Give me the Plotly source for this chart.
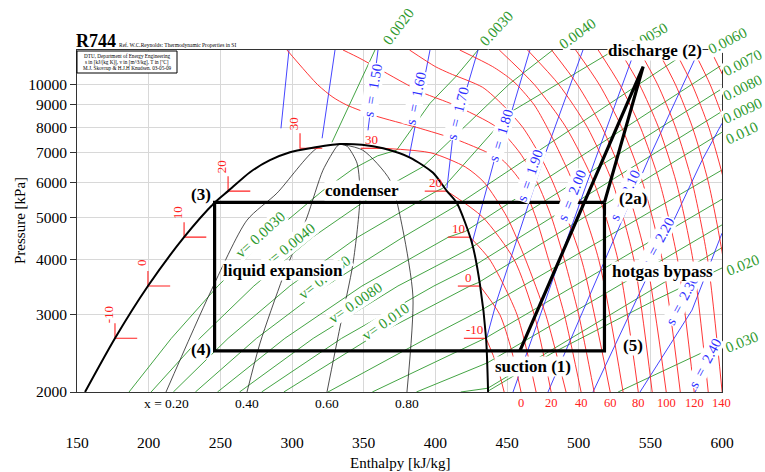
import math
import plotly.graph_objects as go

SERIF = "Liberation Serif, Times New Roman, serif"
RED = "#ff2020"
BLUE = "#3030ff"
GREEN = "#2f9a2f"

# ---------------- data (h in kJ/kg, p in kPa) ----------------
# saturation dome
dome_h = [155.6, 176.5, 199.5, 224.7, 245.6, 255.4, 270.7, 284.6, 298.6, 312.6, 333.5,
          348.8, 363.5, 382.3, 398.4, 408.1, 415.1, 425.6, 431.2, 435.4, 436.8]
dome_p = [2000, 2650, 3484, 4501, 5377, 5729, 6325, 6736, 7024, 7171, 7330,
          7305, 7171, 6830, 6305, 5729, 5377, 4362, 3502, 2650, 2000]

# constant quality lines
quality_labels = ["x = 0.20", "0.40", "0.60", "0.80"]
quality_h = [
    [212.1, 242.8, 268.6, 289.5, 317.4, 333.5],
    [268.6, 277.7, 293.7, 310.5, 321.6, 331.4, 333.5],
    [324.4, 333.5, 342.6, 347.4, 345.4, 338.4, 333.5],
    [380.2, 384.4, 377.4, 368.4, 349.5, 333.5],
]
quality_p = [
    [2000, 3358, 4920, 5668, 7171, 7330],
    [2000, 2584, 3650, 4999, 6392, 7250, 7330],
    [2000, 2811, 3929, 5550, 6630, 7250, 7330],
    [2000, 3288, 4669, 6066, 7096, 7330],
]

# isotherms below the critical temperature (vapour side)
iso_low_T = [-10, 0, 10, 20, 30]
iso_low_h = [
    [435.4, 443.0, 448.0],
    [431.2, 445.0, 453.0, 459.8],
    [424.2, 438.0, 457.0, 470.3],
    [408.1, 433.0, 455.0, 469.0, 480.8],
    [363.5, 397.0, 421.0, 434.0, 450.0, 463.0, 477.0, 491.2],
]
iso_low_p = [
    [2650, 2300, 2000],
    [3484, 3000, 2500, 2000],
    [4501, 4000, 3000, 2000],
    [5729, 5000, 4000, 3000, 2000],
    [7171, 7000, 6500, 6000, 5000, 4000, 3000, 2000],
]
# saturated liquid / vapour points used for the temperature marks
sat_liq_h = [176.5, 199.5, 224.7, 255.4, 305.6]
sat_liq_p = [2650, 3484, 4501, 5729, 7171]
sat_vap_h = [435.4, 431.2, 424.2, 408.1, 363.5]
sat_vap_p = [2650, 3484, 4501, 5729, 7171]

# supercritical isotherms
iso_high_T = [40, 50, 60, 70, 80, 90, 100, 110, 120, 130, 140, 150, 160, 170, 180]
grid_p = [12000, 10000, 8000, 6000, 4000, 2000]
iso_high_p = [
    [12000, 10000, 9368, 9000, 8500, 8000, 7500, 7000, 6736, 6000, 5000, 4000, 3000, 2000],
    [12000, 11486, 10128, 9590, 9000, 8000, 7000, 6000, 5000, 4000, 3000, 2000],
    [12000, 11000, 10618, 9868, 9000, 8000, 7000, 6000, 4000, 2000],
    [12000, 11000, 10398, 10000, 9000, 8000, 6000, 4000, 2000],
] + [grid_p] * 11
iso_high_h = [
    [296.5, 318, 328.6, 338, 358, 387, 415, 437, 447, 460, 470, 479, 490, 501.7],
    [335.6, 347.4, 377.4, 391.3, 413, 443, 459, 471, 481, 490, 500, 510.8],
    [382, 400, 410, 433, 447, 461, 472, 482, 502, 522],
    [417, 440, 451, 457, 469, 478, 496, 514, 531],
    [444.6, 469.2, 491.2, 510.6, 527.4, 541.6],
    [464.3, 486.3, 506.1, 523.5, 538.5, 551.3],
    [481.1, 499.2, 516.3, 532.3, 547.2, 561.1],
    [497.9, 514.5, 530.0, 544.6, 558.3, 570.9],
    [513.6, 528.8, 543.1, 556.5, 569.0, 580.6],
    [528.4, 542.5, 555.7, 568.1, 579.7, 590.4],
    [542.1, 555.2, 567.6, 579.2, 590.0, 600.1],
    [555.0, 567.6, 579.4, 590.5, 600.9, 610.5],
    [567.0, 579.2, 590.8, 601.6, 611.6, 621.0],
    [580.0, 591.8, 602.9, 613.3, 623.0, 632.0],
    [592.0, 603.6, 614.4, 624.6, 634.2, 643.0],
]
bottom_T_labels = [0, 20, 40, 60, 80, 100, 120, 140]
bottom_T_h = [459.8, 480.8, 501.7, 522.0, 541.6, 561.1, 580.6, 599.9]

# isentropes [kJ/(kg K)]
s_values = [1.30, 1.40, 1.50, 1.60, 1.70, 1.80, 1.90, 2.00, 2.10, 2.20, 2.30, 2.40]
s_h = [
    [297.9, 292.3],
    [330.0, 321.0],
    [360.0, 353.0],
    [396.3, 381.6],
    [429.8, 412.3, 408.1],
    [466.0, 453.5, 443.0, 425.6],
    [503.0, 475.1, 443.0, 435.4],
    [539.3, 511.4, 454.2],
    [584.0, 548.4, 478.6],
    [600.0, 586.1, 510.0],
    [600.0, 579.1, 542.8],
    [600.0, 581.2],
]
s_p = [
    [12000, 7962],
    [12000, 7558],
    [12000, 7878],
    [12000, 6830],
    [12000, 7676, 5816],
    [12000, 8748, 7096, 4362],
    [12000, 6736, 3237, 2625],
    [12000, 6736, 2000],
    [12000, 6736, 2000],
    [8174, 6736, 2000],
    [4596, 3072, 2000],
    [2584, 2000],
]
s_label_h = [356.5, 386.5, 415.8, 445.8, 466.1, 495.4, 532.3, 555.4, 572.1, 588.2]
s_label_p = [9714, 9318, 8612, 7676, 6224, 5607, 5607, 4386, 3237, 2328]
s_label_angle = [-80, -78, -76, -73, -71, -68, -65, -62, -62, -62]

# isochores [m3/kg]
v_values = [0.002, 0.003, 0.004, 0.005, 0.006, 0.007, 0.008, 0.009, 0.010,
            0.012, 0.014, 0.016, 0.018, 0.020, 0.030]
v_h = [
    [327.9, 347.4, 357.9],
    [186.3, 215.8, 248.3, 282.8, 321.0, 342.5, 359.7, 373.0, 396.3, 413.8, 429.8],
    [201.7, 235.6, 273.4, 314.4, 360.9, 388.0, 391.0, 452.1, 482.0],
    [217.2, 255.4, 298.5, 345.9, 400.8, 405.0, 452.1, 525.0],
    [232.6, 275.2, 323.6, 377.5, 413.0, 578.0],
    [248.0, 295.0, 348.8, 409.1, 421.0, 600.0],
    [263.4, 314.8, 373.9, 424.5, 600.0],
    [278.8, 334.6, 399.0, 427.3, 600.0],
    [294.3, 354.4, 424.1, 430.2, 600.0],
    [325.1, 394.0, 433.5, 600.0],
    [356.0, 433.7, 435.2, 600.0],
    [386.8, 436.3, 600.0],
    [417.7, 436.6, 600.0],
    [436.8, 481.4, 553.3, 600.0],
    [527.5, 600.0],
]
v_p = [
    [7400, 10128, 12000],
    [2000, 2649, 3485, 4502, 5729, 6434, 6892, 7100, 9076, 10398, 12000],
    [2000, 2649, 3485, 4502, 5729, 6434, 6500, 10076, 12000],
    [2000, 2649, 3485, 4502, 5729, 5810, 8654, 12000],
    [2000, 2649, 3485, 4502, 5270, 12000],
    [2000, 2649, 3485, 4502, 4640, 11100],
    [2000, 2649, 3485, 4250, 9800],
    [2000, 2649, 3485, 3880, 8700],
    [2000, 2649, 3485, 3550, 7800],
    [2000, 2649, 3090, 6400],
    [2000, 2649, 2655, 5490],
    [2000, 2330, 4800],
    [2000, 2040, 4260],
    [2010, 2451, 3237, 3830],
    [2000, 2580],
]
v_edge_labels = ["0.0020", "0.0030", "0.0040", "0.0050", "0.0060", "0.0070",
                 "0.0080", "0.0090", "0.010", "0.020", "0.030"]
v_edge_pos = [(398, 27), (496, 29), (577, 34), (648, 37), (727, 41), (742, 63),
              (742, 88), (742, 111), (742, 133), (743, 265), (742, 342)]
v_edge_angle = [-53, -47, -36, -30, -27, -27, -26, -25, -25, -22, -22]
v_inner_labels = ["v= 0.0030", "v= 0.0040", "v= 0.0060", "v= 0.0080", "v= 0.010"]
v_inner_h = [277.7, 298.6, 323.0, 344.0, 364.9]
v_inner_p = [4549, 4318, 3650, 3187, 2885]
v_inner_angle = [-42, -39, -38, -34, -35]

# refrigeration cycle states
cycle_h = {"1": 459.0, "2": 545.0, "2a": 518.0, "3": 246.0, "4": 246.0, "5": 518.0}
cycle_p = {"1": 2480, "2": 11000, "2a": 5400, "3": 5400, "4": 2480, "5": 2480}

# ---------------- figure ----------------
W, H = 765, 472
L, R, T, B = 77, 43, 50, 80
PW, PH = W - L - R, H - T - B


def paper(px, py):
    return (px - L) / PW, (T + PH - py) / PH


fig = go.Figure()


def add_line(h, p, color, width, shape="linear"):
    fig.add_trace(go.Scatter(x=h, y=p, mode="lines", hoverinfo="skip", showlegend=False,
                             line=dict(color=color, width=width, shape=shape, smoothing=0.7)))


# isochores
for h, p in zip(v_h, v_p):
    add_line(h, p, GREEN, 0.9)
# isentropes
for h, p in zip(s_h, s_p):
    add_line(h, p, BLUE, 0.9)
# isotherms
for h, p in zip(iso_low_h, iso_low_p):
    add_line(h, p, RED, 0.9, "spline")
for h, p in zip(iso_high_h, iso_high_p):
    add_line(h, p, RED, 0.9, "spline")
# quality lines
for h, p in zip(quality_h, quality_p):
    add_line(h, p, "#222222", 0.8, "spline")
# temperature marks on the saturation lines
tick_dh = 15.5
tick_fp = 10 ** (15 / 440)
for hl, pl, hv, pv in zip(sat_liq_h, sat_liq_p, sat_vap_h, sat_vap_p):
    add_line([hl, hl, hl + tick_dh], [pl * tick_fp, pl, pl], RED, 1.1)
    add_line([hv - tick_dh, hv], [pv, pv], RED, 1.1)
# saturation dome
add_line(dome_h, dome_p, "black", 2.0, "spline")

# cycle
c = cycle_h
cp = cycle_p
add_line([c["1"], c["2"], c["2a"]], [cp["1"], cp["2"], cp["2a"]], "black", 3.2)
add_line([c["2a"], c["3"], c["4"], c["5"], c["2a"]],
         [cp["2a"], cp["3"], cp["4"], cp["5"], cp["2a"]], "black", 3.2)

ann = []


def txt(text, x, y, color="black", size=13, angle=0, bold=False, bg=None,
        xref="x", yref="y", xanchor="center", yanchor="middle", xshift=0, yshift=0):
    if bold:
        text = "<b>" + text + "</b>"
    d = dict(text=text, x=x, y=y, xref=xref, yref=yref, showarrow=False,
             textangle=angle, xanchor=xanchor, yanchor=yanchor,
             xshift=xshift, yshift=yshift, borderpad=0,
             font=dict(family=SERIF, size=size, color=color))
    if bg:
        d["bgcolor"] = bg
    ann.append(d)


# quality labels under the axis
for lab, h in zip(quality_labels, [q[0] for q in quality_h]):
    txt(lab, h, 0, size=13.5, xref="x", yref="paper", yshift=-11)
# temperature labels under the axis
for t, h in zip(bottom_T_labels, bottom_T_h):
    txt(str(t), h, 0, color=RED, size=12.5, xref="x", yref="paper", yshift=-11)

# temperature labels at the liquid line (rotated) and vapour line
for t, hl, pl in zip(iso_low_T, sat_liq_h, sat_liq_p):
    txt(str(t), hl, math.log10(pl), color=RED, size=13, angle=-90, xshift=-7, yshift=24)
for t, hv, pv in zip(iso_low_T, sat_vap_h, sat_vap_p):
    txt(str(t), hv - tick_dh / 2, math.log10(pv), color=RED, size=13, yshift=9)

# isentrope labels
for s, h, p, a in zip(s_values[2:], s_label_h, s_label_p, s_label_angle):
    txt("s&nbsp; =&nbsp; %.2f" % s, h, math.log10(p), color=BLUE, size=14.5, angle=a, bg="white")

# isochore labels
for lab, (px, py), a in zip(v_edge_labels, v_edge_pos, v_edge_angle):
    xp, yp = paper(px, py)
    txt(lab, xp, yp, color=GREEN, size=15, angle=a, xref="paper", yref="paper", bg="white")
for lab, h, p, a in zip(v_inner_labels, v_inner_h, v_inner_p, v_inner_angle):
    txt(lab, h, math.log10(p), color=GREEN, size=15, angle=a, bg="white")

# cycle labels
for lab, (px, py) in [("condenser", (362, 190)), ("liquid expansion", (283, 270)),
                      ("(3)", (201, 195)), ("(4)", (201, 349)), ("suction (1)", (533, 366)),
                      ("(5)", (633, 345)), ("hotgas bypass", (662, 271)),
                      ("(2a)", (633, 199)), ("discharge (2)", (655, 51))]:
    xp, yp = paper(px, py)
    txt(lab, xp, yp, size=17, bold=True, bg="white", xref="paper", yref="paper")

# axis titles and header
xp, yp = paper(400, 463)
txt("Enthalpy [kJ/kg]", xp, yp, size=15, xref="paper", yref="paper")
xp, yp = paper(20, 221)
txt("Pressure [kPa]", xp, yp, size=15, angle=-90, xref="paper", yref="paper")
xp, yp = paper(75, 41)
txt("R744", xp, yp, size=18, bold=True, xref="paper", yref="paper", xanchor="left")
xp, yp = paper(118, 45)
txt("Ref. W.C.Reynolds: Thermodynamic Properties in SI", xp, yp, size=5.5,
    xref="paper", yref="paper", xanchor="left")
for i, line_txt in enumerate(["DTU, Department of Energy Engineering",
                              "s in [kJ/(kg K)], v in [m^3/kg], T in [ºC]",
                              "M.J. Skovrup &amp; H.J.H Knudsen. 03-05-09"]):
    xp, yp = paper(127, 56 + 6 * i)
    txt(line_txt, xp, yp, size=5.2, xref="paper", yref="paper")

bx0, by0 = paper(77, 51)
bx1, by1 = paper(177, 73)

fig.update_layout(
    width=W, height=H, margin=dict(l=L, r=R, t=T, b=B),
    paper_bgcolor="white", plot_bgcolor="white",
    annotations=ann,
    shapes=[dict(type="rect", xref="paper", yref="paper", x0=bx0, y0=by0, x1=bx1, y1=by1,
                 line=dict(color="black", width=1), fillcolor="white", layer="above")],
    xaxis=dict(range=[150, 600], tick0=150, dtick=50, showgrid=True, gridcolor="#d8d8d8",
               gridwidth=1, zeroline=False, showline=True, linecolor="#333333", linewidth=1,
               mirror=True, ticks="", ticklabelstandoff=36,
               tickfont=dict(family=SERIF, size=15.5, color="black")),
    yaxis=dict(type="log", range=[math.log10(2000), math.log10(12000)],
               tickvals=[2000, 3000, 4000, 5000, 6000, 7000, 8000, 9000, 10000],
               ticktext=["2000", "3000", "4000", "5000", "6000", "7000", "8000", "9000", "10000"],
               showgrid=True, gridcolor="#d8d8d8", gridwidth=1, zeroline=False,
               showline=True, linecolor="#333333", linewidth=1, mirror=True,
               ticks="outside", ticklen=6, tickcolor="#333333",
               tickfont=dict(family=SERIF, size=15.5, color="black")),
)

fig.write_html("out.html")
